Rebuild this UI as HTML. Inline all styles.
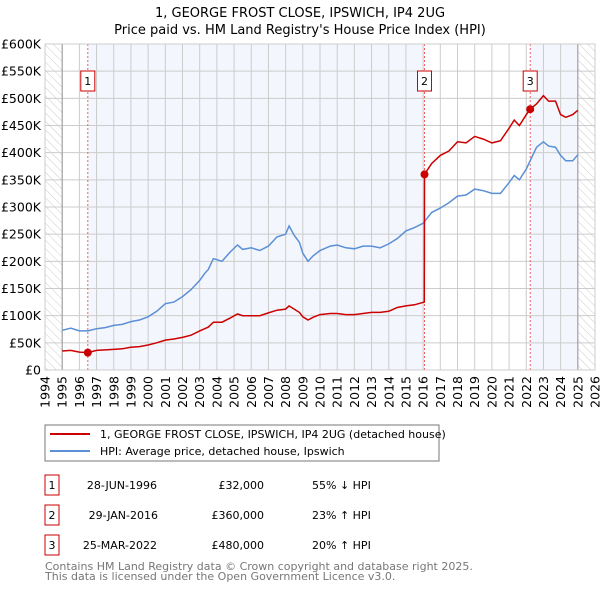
<!DOCTYPE html>
<html><head><meta charset="utf-8"><style>
body{margin:0;background:#fff;width:600px;height:590px;overflow:hidden;font-family:"DejaVu Sans","Liberation Sans",sans-serif;}
svg text{font-family:"DejaVu Sans","Liberation Sans",sans-serif;}
</style></head><body>
<svg id="chart" width="600" height="590" xmlns="http://www.w3.org/2000/svg">
<defs><pattern id="hatch" width="6" height="6" patternUnits="userSpaceOnUse" patternTransform="rotate(-45)"><line x1="0" y1="0" x2="0" y2="6" stroke="#ccc" stroke-width="1"/></pattern></defs>
<text x="300" y="17" text-anchor="middle" font-size="13">1, GEORGE FROST CLOSE, IPSWICH, IP4 2UG</text>
<text x="300" y="34" text-anchor="middle" font-size="13">Price paid vs. HM Land Registry's House Price Index (HPI)</text>
<g id="plot"></g>
<rect x="45" y="425" width="394" height="36" fill="#fff" stroke="#777"/>
<line x1="50" y1="434" x2="90" y2="434" stroke="#cc0000" stroke-width="2"/>
<text x="100" y="438" font-size="11">1, GEORGE FROST CLOSE, IPSWICH, IP4 2UG (detached house)</text>
<line x1="50" y1="451" x2="90" y2="451" stroke="#5b8fd6" stroke-width="2"/>
<text x="100" y="455" font-size="11">HPI: Average price, detached house, Ipswich</text>
<g font-size="11">
<rect x="45" y="475" width="14" height="20" fill="none" stroke="#cc0000"/><text x="52" y="489" text-anchor="middle">1</text>
<text x="157" y="489" text-anchor="end">28-JUN-1996</text><text x="264" y="489" text-anchor="end">£32,000</text><text x="312" y="489">55% ↓ HPI</text>
<rect x="45" y="505" width="14" height="20" fill="none" stroke="#cc0000"/><text x="52" y="519" text-anchor="middle">2</text>
<text x="158" y="519" text-anchor="end">29-JAN-2016</text><text x="264" y="519" text-anchor="end">£360,000</text><text x="312" y="519">23% ↑ HPI</text>
<rect x="45" y="535" width="14" height="20" fill="none" stroke="#cc0000"/><text x="52" y="549" text-anchor="middle">3</text>
<text x="157" y="549" text-anchor="end">25-MAR-2022</text><text x="264" y="549" text-anchor="end">£480,000</text><text x="312" y="549">20% ↑ HPI</text>
</g>
<text x="45" y="570" font-size="11" fill="#777">Contains HM Land Registry data © Crown copyright and database right 2025.</text>
<text x="45" y="580" font-size="11" fill="#777">This data is licensed under the Open Government Licence v3.0.</text>
</svg>
<script>
const xTicks=[1994,1995,1996,1997,1998,1999,2000,2001,2002,2003,2004,2005,2006,2007,2008,2009,2010,2011,2012,2013,2014,2015,2016,2017,2018,2019,2020,2021,2022,2023,2024,2025,2026];
const yTicks=[0,50,100,150,200,250,300,350,400,450,500,550,600];
const yTickLabels=["£0","£50K","£100K","£150K","£200K","£250K","£300K","£350K","£400K","£450K","£500K","£550K","£600K"];
const hpiYears=[1995,1995.5,1996,1996.5,1997,1997.5,1998,1998.5,1999,1999.5,2000,2000.5,2001,2001.5,2002,2002.5,2003,2003.3,2003.5,2003.8,2004.3,2004.8,2005.2,2005.5,2006,2006.5,2007,2007.5,2008,2008.2,2008.5,2008.8,2009,2009.3,2009.6,2010,2010.6,2011,2011.5,2012,2012.5,2013,2013.5,2014,2014.5,2015,2015.5,2016,2016.5,2017,2017.5,2018,2018.5,2019,2019.5,2020,2020.5,2021,2021.3,2021.6,2022,2022.3,2022.6,2023,2023.3,2023.7,2024,2024.3,2024.7,2025];
const hpiValues=[73,77,72,72,76,78,82,84,89,92,98,108,122,125,135,148,165,178,185,205,200,218,230,222,225,220,228,245,250,265,248,235,215,200,210,220,228,230,225,223,228,228,225,232,242,256,262,270,290,298,308,320,322,333,330,325,325,345,358,350,370,390,410,420,412,410,395,385,385,396];
const ppYears=[1995,1995.5,1996,1996.49,1997,1997.5,1998,1998.5,1999,1999.5,2000,2000.5,2001,2001.5,2002,2002.5,2003,2003.3,2003.5,2003.8,2004.3,2004.8,2005.2,2005.5,2006,2006.5,2007,2007.5,2008,2008.2,2008.5,2008.8,2009,2009.3,2009.6,2010,2010.6,2011,2011.5,2012,2012.5,2013,2013.5,2014,2014.5,2015,2015.5,2016.07,2016.08,2016.5,2017,2017.5,2018,2018.5,2019,2019.5,2020,2020.5,2021,2021.3,2021.6,2022,2022.23,2022.6,2023,2023.3,2023.7,2024,2024.3,2024.7,2025];
const ppValues=[35,36,33,32,36,37,38,39,42,43,46,50,55,57,60,64,72,76,79,88,88,96,103,100,100,100,105,110,112,118,112,106,98,92,97,102,104,104,102,102,104,106,106,108,115,118,120,125,360,380,395,403,420,418,430,425,418,422,445,460,450,470,480,490,505,495,495,470,465,470,478];
const saleYears=[1996.49,2016.08,2022.23];
const saleValues=[32,360,480];
const saleLabels=["1","2","3"];

const X0=45,X1=595,Y0=370,Y1=44;
const xs=y=>X0+(y-1994)/(2026-1994)*(X1-X0);
const ys=v=>Y0-v/600*(Y0-Y1);
const NS="http://www.w3.org/2000/svg";
const plot=document.getElementById('plot');
function mk(t,a){const e=document.createElementNS(NS,t);for(const k in a)e.setAttribute(k,a[k]);plot.appendChild(e);return e;}
let e;
e=mk('rect',{x:X0,y:Y1,width:X1-X0,height:Y0-Y1,fill:'#fff'});


e=mk('rect',{x:xs(saleYears[0]),y:Y1,width:xs(saleYears[1])-xs(saleYears[0]),height:Y0-Y1,fill:'#f3f6fd'});


e=mk('rect',{x:xs(saleYears[2]),y:Y1,width:xs(2025)-xs(saleYears[2]),height:Y0-Y1,fill:'#f3f6fd'});


e=mk('rect',{x:X0,y:Y1,width:xs(1995)-X0,height:Y0-Y1,fill:'url(#hatch)'});


e=mk('rect',{x:xs(2025),y:Y1,width:X1-xs(2025),height:Y0-Y1,fill:'url(#hatch)'});


xTicks.forEach(t=>{
 e=mk('line',{x1:xs(t),x2:xs(t),y1:Y1,y2:Y0,stroke:'#ccc','stroke-width':1});
 
 
 e=mk('text',{x:0,y:0,'font-size':12.5,'text-anchor':'end',transform:`translate(${xs(t)+4.5},${Y0+6}) rotate(-90)`});
 e.textContent=t;
 
 
});
yTicks.forEach((t,i)=>{
 e=mk('line',{x1:X0,x2:X1,y1:ys(t),y2:ys(t),stroke:'#ccc','stroke-width':1});
 
 
 e=mk('text',{x:X0-4,y:ys(t)+4.5,'font-size':12.5,'text-anchor':'end'});
 e.textContent=yTickLabels[i];
 
 
});
e=mk('line',{x1:xs(1995),x2:xs(1995),y1:Y1,y2:Y0,stroke:'#999','stroke-width':1});


e=mk('line',{x1:xs(2025),x2:xs(2025),y1:Y1,y2:Y0,stroke:'#999','stroke-width':1});


saleYears.forEach((s,i)=>{
 e=mk('line',{x1:xs(s),x2:xs(s),y1:Y1,y2:Y0,stroke:'#f06060','stroke-width':1,'stroke-dasharray':'2,2'});
 
 
 e=mk('rect',{x:xs(s)-7,y:71,width:14,height:20,fill:'#fff',stroke:'#cc0000'});
 
 
 e=mk('text',{x:xs(s),y:85,'font-size':11,'text-anchor':'middle'});
 e.textContent=saleLabels[i];
 
 
});
const pts=(a,b)=>a.map((y,i)=>xs(y).toFixed(1)+','+ys(b[i]).toFixed(1)).join(' ');
e=mk('polyline',{points:pts(hpiYears,hpiValues),fill:'none',stroke:'#5b8fd6','stroke-width':1.5});


e=mk('polyline',{points:pts(ppYears,ppValues),fill:'none',stroke:'#cc0000','stroke-width':1.5});


saleYears.forEach((s,i)=>{
 e=mk('circle',{cx:xs(s),cy:ys(saleValues[i]),r:4,fill:'#cc0000'});
 
 
});
e=mk('rect',{x:X0,y:Y1,width:X1-X0,height:Y0-Y1,fill:'none',stroke:'#ccc'});


</script>
</body></html>
